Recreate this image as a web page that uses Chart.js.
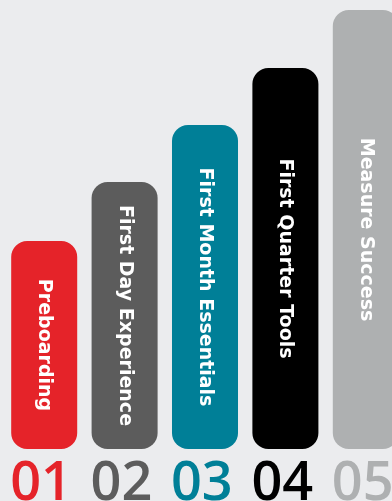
<!DOCTYPE html>
<html>
<head>
<meta charset="utf-8">
<script src="https://cdn.jsdelivr.net/npm/chart.js@4/dist/chart.umd.min.js"></script>
<style>
	html, body { margin: 0; padding: 0; background: #ebecee; overflow: hidden; width: 392px; height: 501px; }
	#chart { position: absolute; left: 0; top: 0; }
</style>
</head>
<body>
<canvas id="chart" width="406" height="501"></canvas>
<script>
// steps of the onboarding, each with its number and its height
let steps = ['Preboarding', 'First Day Experience', 'First Month Essentials', 'First Quarter Tools', 'Measure Success'];
let numbers = ['01', '02', '03', '04', '05'];
let heights = [208, 267, 324, 381, 439];
let colours = ['#e52329', '#5c5c5c', '#007f97', '#000000', '#aeb0b1'];

// draws the step names inside the bars and the numbers underneath
let labelPlugin = {
	id: 'stepLabels',
	afterDatasetsDraw(chart) {
		let ctx = chart.ctx;
		let bars = chart.getDatasetMeta(0).data;
		bars.forEach(function (bar, i) {
			ctx.save();
			ctx.translate(bar.x, (bar.y + bar.base) / 2);
			ctx.rotate(Math.PI / 2);
			ctx.fillStyle = '#ffffff';
			ctx.font = 'bold 19px "DejaVu Sans"';
			ctx.textAlign = 'center';
			ctx.textBaseline = 'middle';
			ctx.fillText(steps[i], 0, 0);
			ctx.restore();

			ctx.save();
			ctx.fillStyle = colours[i];
			ctx.font = '600 54px "Open Sans"';
			ctx.textAlign = 'left';
			ctx.textBaseline = 'alphabetic';
			ctx.fillText(numbers[i], bar.x - bar.width / 2 - 1, 500);
			ctx.restore();
		});
	}
};

let chart = new Chart(document.getElementById('chart').getContext('2d'), {
	type: 'bar',
	data: {
		labels: numbers,
		datasets: [{
			data: heights,
			backgroundColor: colours,
			borderRadius: 16,
			borderSkipped: false,
			barPercentage: 0.821,
			categoryPercentage: 1
		}]
	},
	options: {
		responsive: false,
		animation: false,
		layout: { padding: { left: 4, right: 0, top: 0, bottom: 52 } },
		plugins: { legend: { display: false }, tooltip: { enabled: false } },
		scales: {
			x: { display: false },
			y: { display: false, min: 0, max: 449 }
		}
	},
	plugins: [labelPlugin]
});
</script>
</body>
</html>
